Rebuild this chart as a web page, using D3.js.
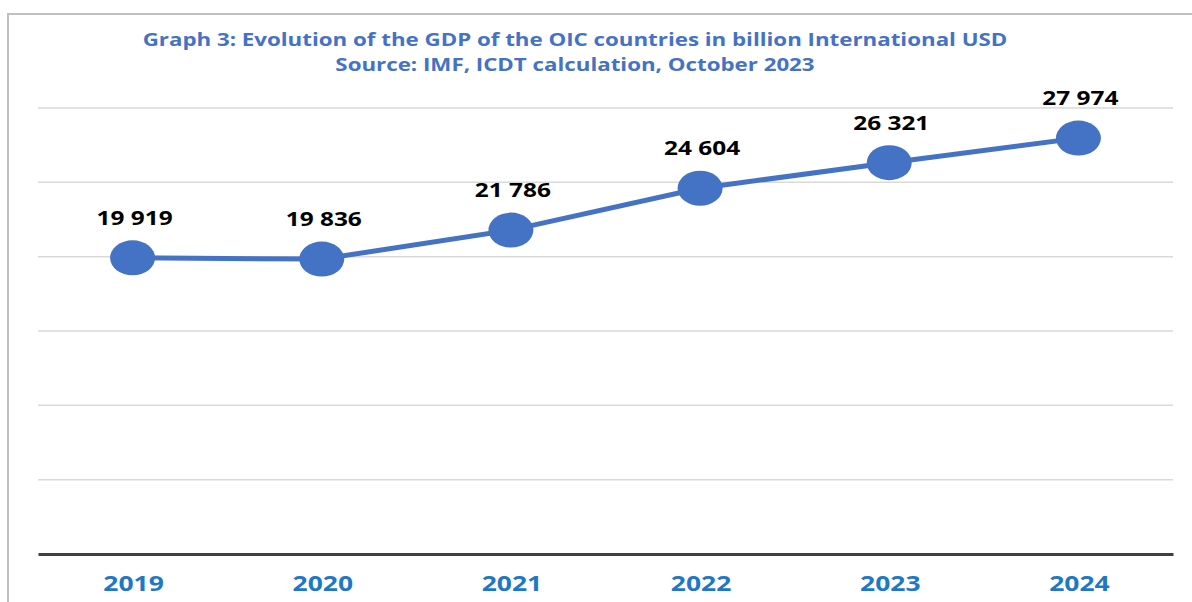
<!DOCTYPE html>
<html><head><meta charset="utf-8">
<script src="https://cdn.jsdelivr.net/npm/d3@7"></script>
<style>body{margin:0;background:#fff}svg{display:block}</style>
</head><body>
<script>
const years = ["2019","2020","2021","2022","2023","2024"];
const gdp = [19919, 19836, 21786, 24604, 26321, 27974];
const yTicks = [0, 5000, 10000, 15000, 20000, 25000, 30000];
const titleLines = ["Graph 3: Evolution of the GDP of the OIC countries in billion International USD",
                    "Source: IMF, ICDT calculation, October 2023"];

const W = 1192, H = 602;
const svg = d3.select("body").append("svg").attr("width", W).attr("height", H);

svg.append("rect").attr("x", 8).attr("y", 14).attr("width", W + 10).attr("height", H + 10)
  .attr("fill", "none").attr("stroke", "#bfbfbf").attr("stroke-width", 2);

const mLeft = 38, mRight = 1173, mTop = 108, mBottom = 554;
const x = d3.scaleBand().domain(years).range([mLeft, mRight]);
const y = d3.scaleLinear().domain([0, 30000]).range([mBottom, mTop]);

function widen(k) {
  return sel => sel.each(function () {
    const w = this.getComputedTextLength();
    d3.select(this).attr("textLength", w * k).attr("lengthAdjust", "spacingAndGlyphs");
  });
}

svg.append("g").selectAll("line").data(yTicks.filter(d => d > 0)).join("line")
  .attr("x1", mLeft).attr("x2", mRight).attr("y1", d => y(d)).attr("y2", d => y(d))
  .attr("stroke", "#d9d9d9").attr("stroke-width", 1.5);

const xAxis = svg.append("g").attr("transform", `translate(0,${mBottom})`)
  .call(d3.axisBottom(x).tickSize(0).tickPadding(22));
xAxis.select(".domain").attr("stroke", "#404040").attr("stroke-width", 3);
xAxis.selectAll("text").attr("fill", "#1f78c4").attr("font-family", "Open Sans, sans-serif")
  .attr("font-weight", "bold").attr("font-size", 21).attr("dx", 1).call(widen(1.26));

const cx = d => x(d) + x.bandwidth() / 2;
const data = years.map((yr, i) => ({yr, v: gdp[i]}));

svg.append("path").datum(data)
  .attr("d", d3.line().x(d => cx(d.yr)).y(d => y(d.v)))
  .attr("fill", "none").attr("stroke", "#4472c4").attr("stroke-width", 5);

svg.append("g").selectAll("ellipse").data(data).join("ellipse")
  .attr("cx", d => cx(d.yr)).attr("cy", d => y(d.v)).attr("rx", 22.5).attr("ry", 17.5)
  .attr("fill", "#4472c4");

const fmt = v => d3.format(",")(v).replace(/,/g, " ");
svg.append("g").selectAll("text").data(data).join("text")
  .attr("x", d => cx(d.yr) + 2).attr("y", d => y(d.v) - 33)
  .attr("text-anchor", "middle").attr("font-family", "Open Sans, sans-serif")
  .attr("font-weight", "bold").attr("font-size", 20).attr("fill", "#000")
  .text(d => fmt(d.v)).call(widen(1.22));

svg.append("g").selectAll("text").data(titleLines).join("text")
  .attr("x", 575).attr("y", (d, i) => 46 + i * 25)
  .attr("text-anchor", "middle").attr("font-family", "Open Sans, sans-serif")
  .attr("font-weight", "bold").attr("font-size", 18.5).attr("fill", "#4472c4")
  .text(d => d).call(widen(1.205));
</script>
</body></html>
